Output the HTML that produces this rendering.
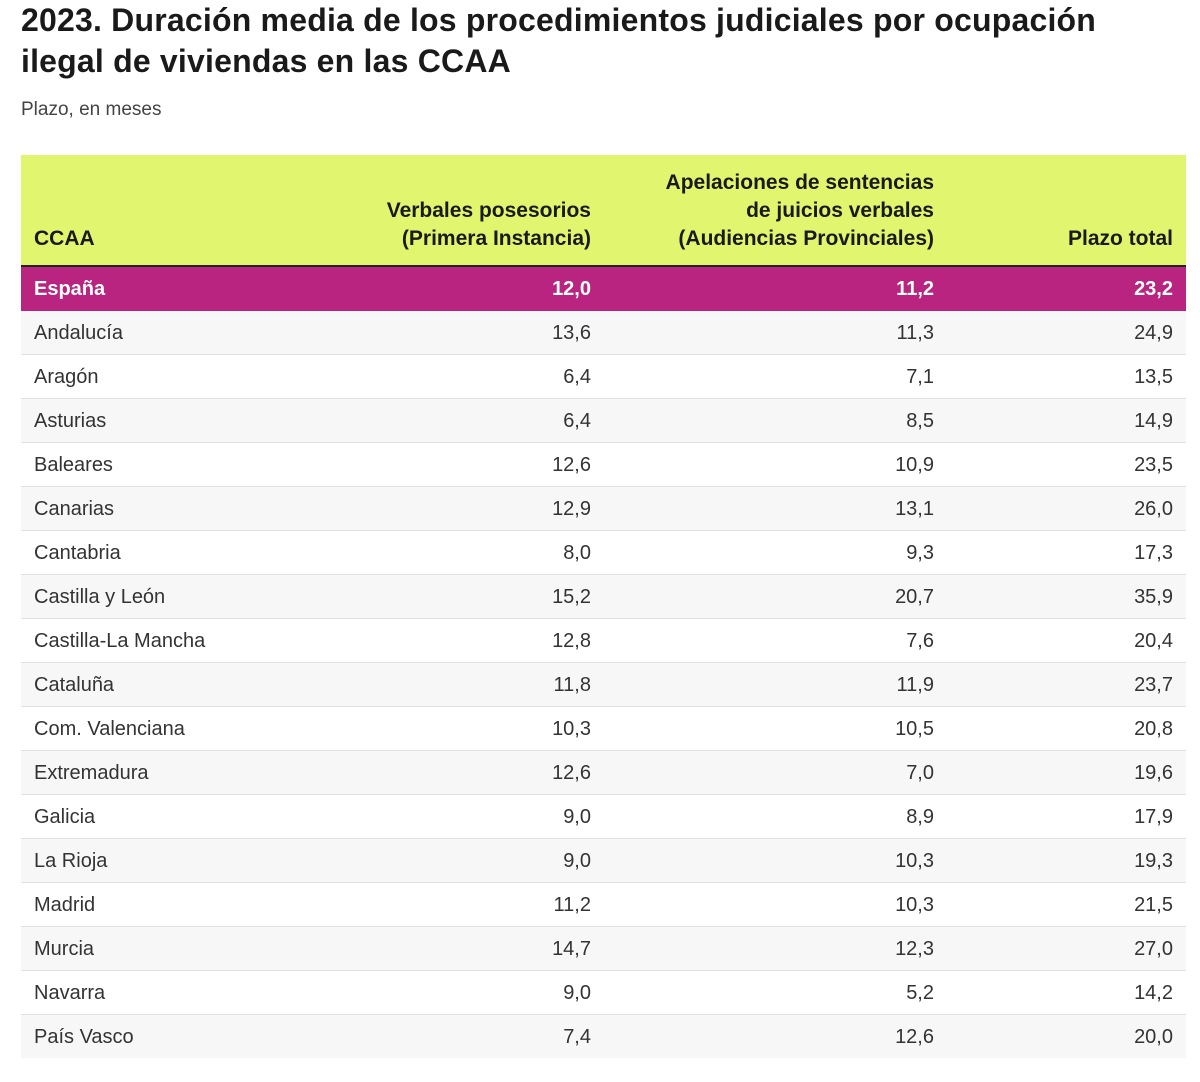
<!DOCTYPE html>
<html><head><meta charset="utf-8"><style>
body{margin:0;background:#fff;font-family:"Liberation Sans",sans-serif;color:#222;width:1200px;height:1082px;overflow:hidden;position:relative}
h1{position:absolute;left:21px;top:0;margin:0;font-size:32px;letter-spacing:0.2px;line-height:41px;font-weight:bold;color:#1a1a1a;width:1170px;white-space:nowrap}
.sub{position:absolute;left:21px;top:99px;font-size:19px;color:#444}
table{position:absolute;left:21px;top:155px;width:1165px;border-collapse:collapse;font-size:20px}
th{background:#e2f56e;font-weight:bold;font-size:21px;line-height:28px;vertical-align:bottom;padding:0 13px 12px 13px;height:98px;border-bottom:2px solid #222;color:#1a1a1a}
td{height:44px;padding:3px 13px 0 13px;box-sizing:border-box;border-bottom:1px solid #e2e2e2;color:#333}
tr:nth-child(even) td{background:#f7f7f7}
.r{text-align:right}
.es td{background:#b8247f!important;color:#fff;font-weight:bold;border-bottom:1px solid #b8247f}
</style></head><body>
<h1>2023. Duración media de los procedimientos judiciales por ocupación<br>ilegal de viviendas en las CCAA</h1>
<div class="sub">Plazo, en meses</div>
<table>
<colgroup><col style="width:340px"><col style="width:243px"><col style="width:343px"><col style="width:239px"></colgroup>
<thead><tr><th style="text-align:left">CCAA</th><th class="r">Verbales posesorios<br>(Primera Instancia)</th><th class="r">Apelaciones de sentencias<br>de juicios verbales<br>(Audiencias Provinciales)</th><th class="r">Plazo total</th></tr></thead>
<tbody>
<tr class="es"><td>España</td><td class="r">12,0</td><td class="r">11,2</td><td class="r">23,2</td></tr>
<tr><td>Andalucía</td><td class="r">13,6</td><td class="r">11,3</td><td class="r">24,9</td></tr>
<tr><td>Aragón</td><td class="r">6,4</td><td class="r">7,1</td><td class="r">13,5</td></tr>
<tr><td>Asturias</td><td class="r">6,4</td><td class="r">8,5</td><td class="r">14,9</td></tr>
<tr><td>Baleares</td><td class="r">12,6</td><td class="r">10,9</td><td class="r">23,5</td></tr>
<tr><td>Canarias</td><td class="r">12,9</td><td class="r">13,1</td><td class="r">26,0</td></tr>
<tr><td>Cantabria</td><td class="r">8,0</td><td class="r">9,3</td><td class="r">17,3</td></tr>
<tr><td>Castilla y León</td><td class="r">15,2</td><td class="r">20,7</td><td class="r">35,9</td></tr>
<tr><td>Castilla-La Mancha</td><td class="r">12,8</td><td class="r">7,6</td><td class="r">20,4</td></tr>
<tr><td>Cataluña</td><td class="r">11,8</td><td class="r">11,9</td><td class="r">23,7</td></tr>
<tr><td>Com. Valenciana</td><td class="r">10,3</td><td class="r">10,5</td><td class="r">20,8</td></tr>
<tr><td>Extremadura</td><td class="r">12,6</td><td class="r">7,0</td><td class="r">19,6</td></tr>
<tr><td>Galicia</td><td class="r">9,0</td><td class="r">8,9</td><td class="r">17,9</td></tr>
<tr><td>La Rioja</td><td class="r">9,0</td><td class="r">10,3</td><td class="r">19,3</td></tr>
<tr><td>Madrid</td><td class="r">11,2</td><td class="r">10,3</td><td class="r">21,5</td></tr>
<tr><td>Murcia</td><td class="r">14,7</td><td class="r">12,3</td><td class="r">27,0</td></tr>
<tr><td>Navarra</td><td class="r">9,0</td><td class="r">5,2</td><td class="r">14,2</td></tr>
<tr><td style="border-bottom:none">País Vasco</td><td class="r" style="border-bottom:none">7,4</td><td class="r" style="border-bottom:none">12,6</td><td class="r" style="border-bottom:none">20,0</td></tr>
</tbody></table>
</body></html>
